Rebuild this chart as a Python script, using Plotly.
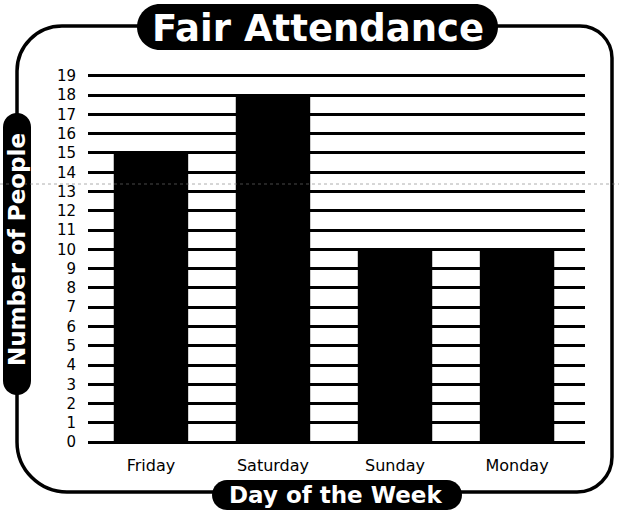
import plotly.graph_objects as go

days = ["Friday", "Saturday", "Sunday", "Monday"]
people = [15, 18, 10, 10]
y_ticks = list(range(0, 20))

W, H = 619, 512
L, R, T, B = 88, 585, 73, 445  # plot area in pixels


def px(x):
    return (x - L) / (R - L)


def py(y):
    return (B - y) / (B - T)


def rrect(x0, y0, x1, y1, r):
    k = 0.5523 * r
    pts = [
        f"M {px(x0 + r)},{py(y0)}",
        f"L {px(x1 - r)},{py(y0)}",
        f"C {px(x1 - r + k)},{py(y0)} {px(x1)},{py(y0 + r - k)} {px(x1)},{py(y0 + r)}",
        f"L {px(x1)},{py(y1 - r)}",
        f"C {px(x1)},{py(y1 - r + k)} {px(x1 - r + k)},{py(y1)} {px(x1 - r)},{py(y1)}",
        f"L {px(x0 + r)},{py(y1)}",
        f"C {px(x0 + r - k)},{py(y1)} {px(x0)},{py(y1 - r + k)} {px(x0)},{py(y1 - r)}",
        f"L {px(x0)},{py(y0 + r)}",
        f"C {px(x0)},{py(y0 + r - k)} {px(x0 + r - k)},{py(y0)} {px(x0 + r)},{py(y0)}",
        "Z",
    ]
    return " ".join(pts)


def border(x0, y0, x1, y1, rtl, rtr, rbr, rbl):
    k = 0.5523
    pts = [
        f"M {px(x0 + rtl)},{py(y0)}",
        f"L {px(x1 - rtr)},{py(y0)}",
        f"C {px(x1 - rtr + k*rtr)},{py(y0)} {px(x1)},{py(y0 + rtr - k*rtr)} {px(x1)},{py(y0 + rtr)}",
        f"L {px(x1)},{py(y1 - rbr)}",
        f"C {px(x1)},{py(y1 - rbr + k*rbr)} {px(x1 - rbr + k*rbr)},{py(y1)} {px(x1 - rbr)},{py(y1)}",
        f"L {px(x0 + rbl)},{py(y1)}",
        f"C {px(x0 + rbl - k*rbl)},{py(y1)} {px(x0)},{py(y1 - rbl + k*rbl)} {px(x0)},{py(y1 - rbl)}",
        f"L {px(x0)},{py(y0 + rtl)}",
        f"C {px(x0)},{py(y0 + rtl - k*rtl)} {px(x0 + rtl - k*rtl)},{py(y0)} {px(x0 + rtl)},{py(y0)}",
        "Z",
    ]
    return " ".join(pts)


fig = go.Figure(
    go.Bar(x=days, y=people, marker=dict(color="black", line=dict(width=0)))
)

shapes = [
    dict(type="path", xref="paper", yref="paper", path=border(17, 26, 612, 492, 45, 32, 35, 50),
         line=dict(color="black", width=3.5), fillcolor="rgba(0,0,0,0)", layer="above"),
    dict(type="path", xref="paper", yref="paper", path=rrect(137, 4, 498, 50, 23),
         line=dict(width=0), fillcolor="black", layer="above"),
    dict(type="path", xref="paper", yref="paper", path=rrect(3, 113, 31, 395, 14),
         line=dict(width=0), fillcolor="black", layer="above"),
    dict(type="path", xref="paper", yref="paper", path=rrect(212, 480, 462, 510, 15),
         line=dict(width=0), fillcolor="black", layer="above"),
    dict(type="line", xref="paper", yref="paper", x0=px(0), x1=px(619), y0=py(184), y1=py(184),
         line=dict(color="rgba(120,120,120,0.6)", width=1, dash="dot"), layer="above"),
]

annotations = [
    dict(text="<b>Fair Attendance</b>", xref="paper", yref="paper", x=px(318), y=py(28),
         showarrow=False, font=dict(family="DejaVu Sans", size=37, color="white"),
         xanchor="center", yanchor="middle"),
    dict(text="<b>Number of People</b>", xref="paper", yref="paper", x=px(17), y=py(250),
         showarrow=False, font=dict(family="DejaVu Sans", size=23, color="white"),
         textangle=-90, xanchor="center", yanchor="middle"),
    dict(text="<b>Day of the Week</b>", xref="paper", yref="paper", x=px(335), y=py(495),
         showarrow=False, font=dict(family="DejaVu Sans", size=23, color="white"),
         xanchor="center", yanchor="middle"),
]

fig.update_layout(
    width=W, height=H,
    margin=dict(l=L, r=W - R, t=T, b=H - B, pad=0),
    paper_bgcolor="white", plot_bgcolor="white",
    bargap=0.39,
    showlegend=False,
    shapes=shapes,
    annotations=annotations,
    xaxis=dict(range=[-0.516, 3.557], showgrid=False, zeroline=False, showline=False,
               ticks="", tickfont=dict(family="DejaVu Sans", size=16, color="black"),
               ticklabelstandoff=9, fixedrange=True),
    yaxis=dict(range=[-0.15, 19.15], tickvals=y_ticks, ticktext=[str(v) for v in y_ticks],
               showgrid=True, gridcolor="black", gridwidth=3, zeroline=False, showline=False,
               ticks="", tickfont=dict(family="DejaVu Sans", size=15, color="black"),
               ticklabelstandoff=11, fixedrange=True),
)

fig.write_html("out.html", config={"displayModeBar": False},
               post_script="document.body.style.margin='0';")
